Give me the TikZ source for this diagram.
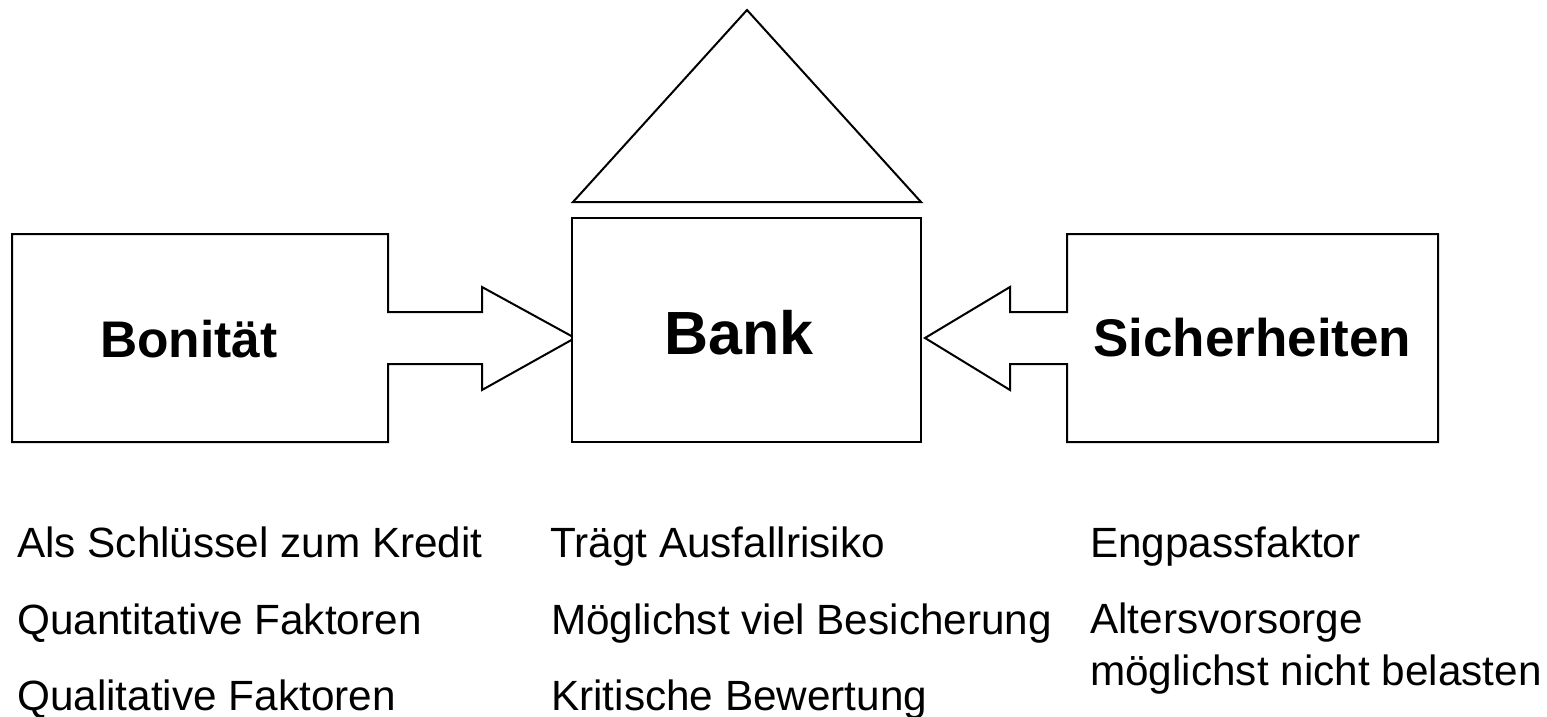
\documentclass[tikz,border=0pt]{standalone}
\usepackage{fontspec}
\setmainfont{Liberation Sans}
\begin{document}
\begin{tikzpicture}[x=1pt,y=-1pt,
  shape line/.style={draw=black,line width=2pt,line join=miter,fill=white},
  title/.style={anchor=base west,inner sep=0pt,font=\bfseries\fontsize{51.5}{60}\selectfont},
  bigtitle/.style={anchor=base west,inner sep=0pt,font=\bfseries\fontsize{61}{70}\selectfont},
  body/.style={anchor=base west,inner sep=0pt,font=\fontsize{42.3}{50}\selectfont}]
\useasboundingbox (0,0) rectangle (1547,717);
% left box with arrow
\draw[shape line] (12,234) -- (388,234) -- (388,312) -- (482,312) -- (482,287) -- (575,338)
  -- (482,390) -- (482,364) -- (388,364) -- (388,442) -- (12,442) -- cycle;
% center box and roof
\draw[shape line] (572,218) rectangle (921,442);
\draw[shape line] (573,202) -- (747,10) -- (921,202) -- cycle;
% right box with arrow
\draw[shape line] (1438,234) -- (1067,234) -- (1067,312) -- (1010,312) -- (1010,287) -- (925,338)
  -- (1010,390) -- (1010,364) -- (1067,364) -- (1067,442) -- (1438,442) -- cycle;
% titles
\node[title] (bon) at (100,357) {Bonität};
\node[bigtitle] (bank) at (664,354) {Bank};
\node[title,font=\bfseries\fontsize{53}{62}\selectfont] (sich) at (1093,356) {Sicherheiten};
% bullet texts
\node[body] (l1) at (17,557) {Als Schlüssel zum Kredit};
\node[body] (l2) at (17,634) {Quantitative Faktoren};
\node[body] (l3) at (17,710) {Qualitative Faktoren};
\node[body] (m1) at (550,557) {Trägt Ausfallrisiko};
\node[body] (m2) at (551,634) {Möglichst viel Besicherung};
\node[body] (m3) at (551,710) {Kritische Bewertung};
\node[body] (r1) at (1090,557) {Engpassfaktor};
\node[body] (r2) at (1090,633) {Altersvorsorge};
\node[body] (r3) at (1090,685) {möglichst nicht belasten};
\end{tikzpicture}
\end{document}
